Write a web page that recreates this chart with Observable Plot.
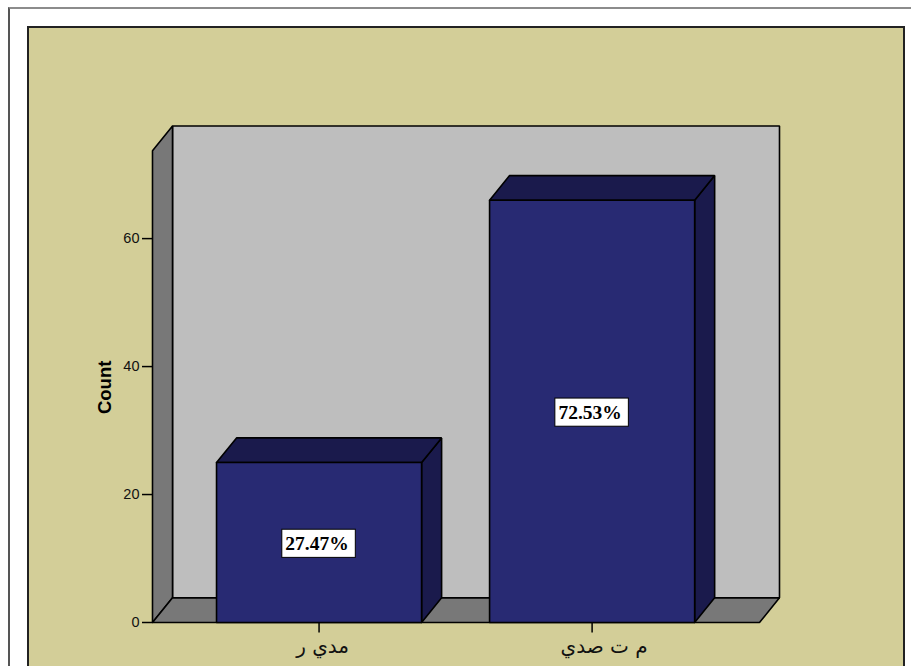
<!DOCTYPE html>
<html>
<head>
<meta charset="utf-8">
<script src="https://cdn.jsdelivr.net/npm/d3@7"></script>
<script src="https://cdn.jsdelivr.net/npm/@observablehq/plot@0.6"></script>
<style>
  html, body { margin: 0; padding: 0; width: 911px; height: 666px; overflow: hidden; background: #fff; }
  #sheet { position: absolute; left: 8px; top: 7px; width: 920px; height: 700px; border-style: solid; border-color: #8c8c8c #555; border-width: 2px; box-sizing: border-box; }
  #panel { position: absolute; left: 27px; top: 26px; width: 878px; height: 700px; background: #d3ce98; border: 2px solid #222; box-sizing: border-box; }
  #chart { position: absolute; left: 0; top: 0; }
</style>
</head>
<body>
<div id="sheet"></div>
<div id="panel"></div>
<div id="chart"></div>
<script>
// Counts per job category, drawn as extruded columns.
const categories = ["مدي ر", "م ت صدي"];
const counts = [25, 66];
const percentLabels = ["27.47%", "72.53%"];
const countTicks = [0, 20, 40, 60];

// Extent of the chart box and extrusion depth, in scale units.
const xMin = -0.61, xMax = 1.613, yMax = 73.75;
const depthX = 0.0733, depthY = 3.85;
const barHalf = 0.3755;
const boxHalfX = 0.1346, boxHalfY = 2.2;
// Horizontal nudge of the category names from their tick, in scale units.
const categoryNudge = [0.013, 0.044];

const colors = { wall: "#bebebe", shade: "#787878", bar: "#282a73", barDark: "#1a1a4c" };

// Closed polygon, tagged by face, for the line mark to fill.
const poly = (face, pts) => pts.concat([pts[0]]).map(([x, y]) => ({ face, x, y }));

const back = poly("back", [[xMin + depthX, depthY], [xMax + depthX, depthY], [xMax + depthX, yMax + depthY], [xMin + depthX, yMax + depthY]]);
const side = poly("side", [[xMin, 0], [xMin + depthX, depthY], [xMin + depthX, yMax + depthY], [xMin, yMax]]);
const floor = poly("floor", [[xMin, 0], [xMax, 0], [xMax + depthX, depthY], [xMin + depthX, depthY]]);

const fronts = [], tops = [], sides = [];
counts.forEach((v, i) => {
  const a = i - barHalf, b = i + barHalf;
  fronts.push(...poly("f" + i, [[a, 0], [b, 0], [b, v], [a, v]]));
  tops.push(...poly("t" + i, [[a, v], [b, v], [b + depthX, v + depthY], [a + depthX, v + depthY]]));
  sides.push(...poly("s" + i, [[b, 0], [b + depthX, depthY], [b + depthX, v + depthY], [b, v]]));
});

const face = (data, fill, strokeWidth = 1.6) =>
  Plot.line(data, { x: "x", y: "y", z: "face", fill, stroke: "#000", strokeWidth, strokeLinejoin: "miter" });

const labels = counts.map((v, i) => ({ i, mid: v / 2 - 0.2, text: percentLabels[i] }));

const chart = Plot.plot({
  width: 911,
  height: 666,
  marginLeft: 152,
  marginRight: 132,
  marginTop: 125.5,
  marginBottom: 44,
  style: { background: "transparent", fontFamily: "'Liberation Sans', Arial, sans-serif" },
  x: { domain: [xMin, xMax + depthX], axis: null },
  y: { domain: [0, yMax + depthY], axis: null },
  marks: [
    face(back, colors.wall),
    face(side, colors.shade),
    face(floor, colors.shade),
    face(sides, colors.barDark),
    face(tops, colors.barDark),
    face(fronts, colors.bar),
    Plot.axisY(countTicks, {
      anchor: "left", label: null, tickSize: 10, tickPadding: 3, strokeWidth: 1.5, stroke: "#000",
      fontSize: 14.5, textStroke: "none", color: "#111"
    }),
    Plot.ruleX([0, 1], { y1: 0, y2: -1.65, stroke: "#000", strokeWidth: 1.5 }),
    Plot.text([0, 1], {
      x: (d) => d + categoryNudge[d], y: 0, text: (d) => categories[d], dy: 24,
      fontSize: 20, fontFamily: "'DejaVu Sans', sans-serif", fill: "#111"
    }),
    Plot.text(["Count"], { x: xMin, y: 36.75, text: (d) => d, rotate: -90, dx: -47, fontSize: 18.5, fontWeight: "bold", fill: "#000" }),
    Plot.rect(labels, { x1: (d) => d.i - boxHalfX, x2: (d) => d.i + boxHalfX, y1: (d) => d.mid - boxHalfY, y2: (d) => d.mid + boxHalfY, fill: "#fff", stroke: "#000", strokeWidth: 1 }),
    Plot.text(labels, { x: "i", y: "mid", text: "text", dx: -2, fontSize: 19.5, fontWeight: "bold", fontFamily: "'Liberation Serif', 'Times New Roman', serif", fill: "#000" })
  ]
});
document.getElementById("chart").appendChild(chart);
</script>
</body>
</html>
